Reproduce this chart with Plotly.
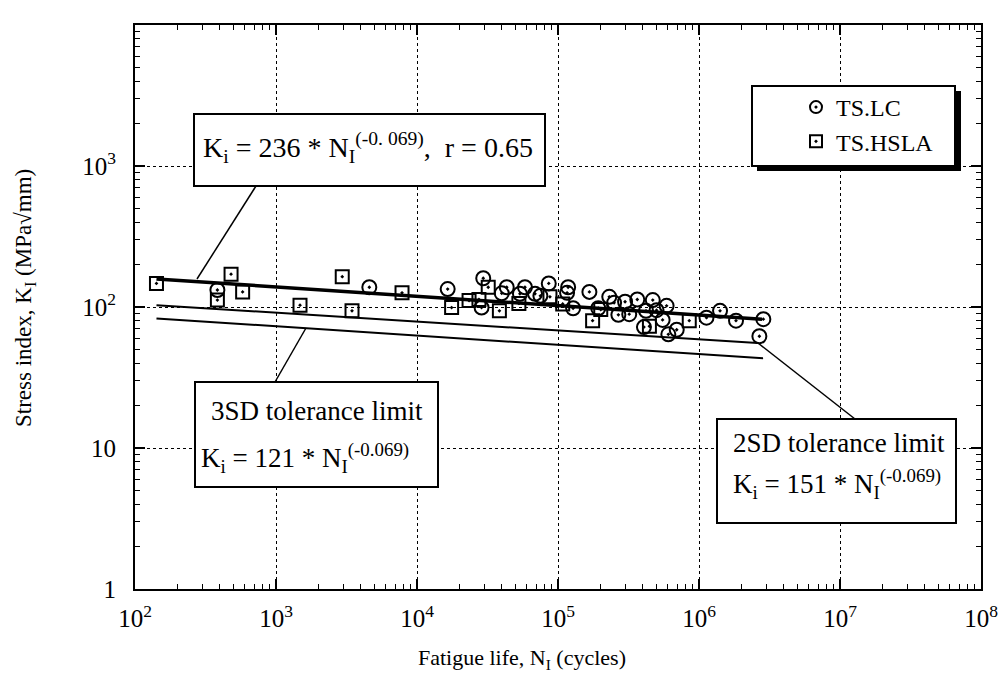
import plotly.graph_objects as go

# ---------------- data ----------------
lc_N = [384, 4590, 16500, 29500, 28700, 39900, 43300, 53700, 58300, 68700, 75000,
        86000, 118000, 116000, 128000, 167000, 193000, 231000, 250000, 268000,
        299000, 320000, 365000, 421000, 470000, 500000, 407000, 552000, 589000,
        606000, 695000, 1130000, 1410000, 1830000, 2860000, 2680000]
lc_K = [132, 138, 134, 160, 99, 125, 138, 124, 138, 124, 120,
        147, 138, 126, 98, 128, 98, 118, 107, 88,
        109, 89, 113, 94, 112, 95, 72, 81, 102,
        64, 69, 84, 94, 80, 82, 62]

hsla_N = [142, 480, 384, 580, 1480, 2950, 3460, 7830, 17600, 23400, 27500, 32000,
          38400, 52800, 87700, 108000, 176000, 201000, 445000, 853000]
hsla_K = [147, 171, 112, 128, 103, 164, 94, 126, 99, 111, 113, 138,
          94, 106, 118, 105, 80, 96, 73, 80]

fit_N = [142, 2.8e6]
fit_K = [158, 82]
sd2_N = [142, 2.6e6]
sd2_K = [103, 55.5]
sd3_N = [142, 2.85e6]
sd3_K = [83, 43.3]

x_tick_vals = [1e2, 1e3, 1e4, 1e5, 1e6, 1e7, 1e8]
x_tick_text = ["10<sup>2</sup>", "10<sup>3</sup>", "10<sup>4</sup>", "10<sup>5</sup>",
               "10<sup>6</sup>", "10<sup>7</sup>", "10<sup>8</sup>"]
y_tick_vals = [1, 10, 100, 1000, 10000]
y_tick_text = ["1", "10", "10<sup>2</sup>", "10<sup>3</sup>", "10<sup>4</sup>"]

# ---------------- layout helpers ----------------
# the page body adds an 8 px margin, so the figure is made 8 px smaller
OFF = 8
W_IMG, H_IMG = 1006 - OFF, 688 - OFF
# plot area in reference-image pixels
L, R, T, B = 135, 981, 25, 589
PW, PH = R - L, B - T


def px(x):
    return (x - L) / PW


def py(y):
    return (B - y) / PH


FONT = "Liberation Serif, Times New Roman, serif"

x_minor = [m * 10 ** k for k in range(2, 8) for m in range(2, 10)]
y_minor = [m * 10 ** k for k in range(0, 4) for m in range(2, 10)]

fig = go.Figure()

fig.add_trace(go.Scatter(x=fit_N, y=fit_K, mode="lines",
                         line=dict(color="black", width=3.5), showlegend=False))
fig.add_trace(go.Scatter(x=sd2_N, y=sd2_K, mode="lines",
                         line=dict(color="black", width=2), showlegend=False))
fig.add_trace(go.Scatter(x=sd3_N, y=sd3_K, mode="lines",
                         line=dict(color="black", width=2), showlegend=False))

fig.add_trace(go.Scatter(x=lc_N, y=lc_K, mode="markers", name="TS.LC",
                         marker=dict(symbol="circle-open-dot", size=14, color="black",
                                     line=dict(color="black", width=2))))
fig.add_trace(go.Scatter(x=hsla_N, y=hsla_K, mode="markers", name="TS.HSLA",
                         marker=dict(symbol="square-open-dot", size=13, color="black",
                                     line=dict(color="black", width=2))))

axis_common = dict(
    type="log", showline=True, linecolor="black", linewidth=2, mirror="ticks",
    ticks="inside", ticklen=10, tickwidth=2, tickcolor="black",
    showgrid=True, gridcolor="black", gridwidth=1, griddash="dot",
    zeroline=False, tickmode="array",
    tickfont=dict(family=FONT, size=25, color="black"),
)

fig.update_xaxes(**axis_common, range=[2, 8], tickvals=x_tick_vals, ticktext=x_tick_text,
                 minor=dict(tickmode="array", tickvals=x_minor, ticks="inside", ticklen=5,
                            tickwidth=1, tickcolor="black", showgrid=False),
                 ticklabelstandoff=6)
fig.update_yaxes(**axis_common, range=[0, 4], tickvals=y_tick_vals, ticktext=y_tick_text,
                 minor=dict(tickmode="array", tickvals=y_minor, ticks="inside", ticklen=5,
                            tickwidth=1, tickcolor="black", showgrid=False),
                 ticklabelstandoff=12)


def rect(x0, y0, x1, y1, fill="white", lw=2):
    return dict(type="rect", xref="paper", yref="paper", x0=px(x0), x1=px(x1),
                y0=py(y1), y1=py(y0), fillcolor=fill,
                line=dict(color="black", width=lw), layer="above")


def seg(x0, y0, x1, y1):
    return dict(type="line", xref="paper", yref="paper", x0=px(x0), y0=py(y0),
                x1=px(x1), y1=py(y1), line=dict(color="black", width=1.5), layer="above")


shapes = [
    # leader lines
    seg(197, 279, 256, 186),
    seg(306, 328, 275, 382),
    seg(758, 343, 855, 419),
    # text boxes
    rect(194, 114, 545, 186),
    rect(195, 382, 438, 487),
    rect(717, 419, 956, 523),
    # legend shadow + box
    rect(757, 91, 961, 171, fill="black", lw=0),
    rect(752, 86, 955, 166),
]


def label(x, y, text, size=27):
    return dict(xref="paper", yref="paper", x=px(x), y=py(y), xanchor="left",
                yanchor="middle", text=text, showarrow=False,
                font=dict(family=FONT, size=size, color="black"))


annotations = [
    label(201, 147, "K<sub>i</sub> = 236 * N<sub>I</sub><sup>(-0. 069)</sup>,\u00a0\u00a0r = 0.65", 28),
    label(209, 411, "3SD tolerance limit"),
    label(199, 458, "K<sub>i</sub> = 121 * N<sub>I</sub><sup>(-0.069)</sup>"),
    label(731, 443, "2SD tolerance limit"),
    label(731, 484, "K<sub>i</sub> = 151 * N<sub>I</sub><sup>(-0.069)</sup>"),
    # axis titles
    dict(xref="paper", yref="paper", x=px(522), y=py(659), xanchor="center", yanchor="middle",
         text="Fatigue life, N<sub>I</sub> (cycles)", showarrow=False,
         font=dict(family=FONT, size=22, color="black")),
    dict(xref="paper", yref="paper", x=px(25), y=py(298), xanchor="center", yanchor="middle",
         text="Stress index, K<sub>I</sub> (MPa\u221Amm)", showarrow=False, textangle=-90,
         font=dict(family=FONT, size=23, color="black")),
]

fig.update_layout(
    width=W_IMG, height=H_IMG,
    margin=dict(l=L - OFF, r=W_IMG - (R - OFF), t=T - OFF, b=H_IMG - (B - OFF),
                autoexpand=False),
    paper_bgcolor="white", plot_bgcolor="white",
    font=dict(family=FONT, color="black"),
    shapes=shapes, annotations=annotations,
    legend=dict(x=px(796), y=py(85), xanchor="left", yanchor="top",
                bgcolor="rgba(0,0,0,0)", borderwidth=0,
                font=dict(family=FONT, size=24, color="black"),
                itemsizing="constant", tracegroupgap=0),
    showlegend=True,
)

fig.write_html("out.html")
